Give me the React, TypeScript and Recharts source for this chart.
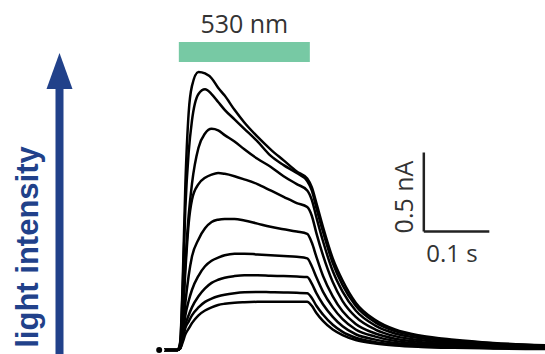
import { LineChart, Line, XAxis, YAxis, ReferenceArea, ReferenceLine, Customized } from 'recharts'

// time in s (light on at 0, off at 0.2), current in nA
const times = [-0.03, -0.002, 0.002, 0.006, 0.01, 0.015, 0.02, 0.03, 0.04, 0.05, 0.06, 0.07, 0.085, 0.1, 0.12, 0.14, 0.16, 0.18, 0.196, 0.203, 0.21, 0.22, 0.235, 0.25, 0.27, 0.3, 0.33, 0.37, 0.42, 0.48, 0.559]

const traceA = [0, 0, 0.05, 0.45, 1.05, 1.5, 1.67, 1.76, 1.75, 1.72, 1.66, 1.61, 1.52, 1.44, 1.35, 1.27, 1.2, 1.13, 1.085, 1.03, 0.93, 0.78, 0.58, 0.44, 0.3, 0.19, 0.13, 0.09, 0.065, 0.045, 0.03]
const traceB = [0, 0, 0.04, 0.4, 0.9, 1.25, 1.45, 1.62, 1.65, 1.62, 1.57, 1.52, 1.46, 1.4, 1.32, 1.23, 1.17, 1.12, 1.07, 1.01, 0.9, 0.75, 0.55, 0.41, 0.28, 0.175, 0.12, 0.085, 0.06, 0.042, 0.028]
const traceC = [0, 0, 0.03, 0.25, 0.55, 0.85, 1.05, 1.28, 1.37, 1.4, 1.39, 1.36, 1.32, 1.27, 1.21, 1.16, 1.1, 1.05, 1.01, 0.95, 0.84, 0.69, 0.5, 0.37, 0.25, 0.155, 0.105, 0.075, 0.053, 0.038, 0.025]
const traceD = [0, 0, 0.02, 0.2, 0.5, 0.8, 0.95, 1.05, 1.09, 1.11, 1.12, 1.115, 1.1, 1.08, 1.05, 1.01, 0.97, 0.93, 0.905, 0.85, 0.74, 0.6, 0.43, 0.31, 0.21, 0.13, 0.088, 0.062, 0.045, 0.032, 0.022]
const traceE = [0, 0, 0.015, 0.12, 0.3, 0.47, 0.59, 0.7, 0.77, 0.81, 0.825, 0.83, 0.83, 0.82, 0.8, 0.78, 0.765, 0.75, 0.735, 0.68, 0.59, 0.47, 0.34, 0.245, 0.165, 0.105, 0.072, 0.05, 0.036, 0.026, 0.018]
const traceF = [0, 0, 0.01, 0.1, 0.22, 0.31, 0.38, 0.47, 0.53, 0.565, 0.585, 0.6, 0.61, 0.61, 0.605, 0.6, 0.595, 0.59, 0.58, 0.53, 0.46, 0.37, 0.27, 0.195, 0.13, 0.085, 0.058, 0.04, 0.028, 0.02, 0.014]
const traceG = [0, 0, 0.01, 0.08, 0.16, 0.22, 0.27, 0.34, 0.39, 0.425, 0.445, 0.458, 0.468, 0.473, 0.473, 0.47, 0.468, 0.465, 0.462, 0.42, 0.36, 0.29, 0.21, 0.15, 0.1, 0.066, 0.045, 0.031, 0.022, 0.016, 0.011]
const traceH = [0, 0, 0.01, 0.07, 0.14, 0.18, 0.22, 0.27, 0.305, 0.325, 0.34, 0.35, 0.36, 0.366, 0.368, 0.366, 0.364, 0.362, 0.36, 0.33, 0.28, 0.225, 0.16, 0.115, 0.078, 0.05, 0.035, 0.024, 0.017, 0.012, 0.008]
const traceI = [0, 0, 0.01, 0.05, 0.1, 0.135, 0.17, 0.22, 0.25, 0.27, 0.285, 0.293, 0.3, 0.303, 0.305, 0.305, 0.305, 0.305, 0.305, 0.28, 0.235, 0.185, 0.13, 0.095, 0.064, 0.042, 0.029, 0.02, 0.014, 0.01, 0.006]

const traces = [traceA, traceB, traceC, traceD, traceE, traceF, traceG, traceH, traceI]

// light pulse and scale bar (0.1 s, 0.5 nA)
const pulse = { start: 0, end: 0.2, label: '530 nm' }
const scaleBar = { t: 0.374, v: 0.75, dt: 0.1, dv: 0.5 }

const chartData = times.map((t, i) => {
  const row: Record<string, number> = { t }
  traces.forEach((s, k) => {
    row['s' + k] = s[i]
  })
  return row
})

const NAVY = '#21418a'

function Annotations() {
  return (
    <g>
      <rect x={55.5} y={86} width={8} height={270} fill={NAVY} />
      <polygon points="59.5,53 46.5,89 72.5,89" fill={NAVY} />
      <text
        x={38}
        y={247}
        transform="rotate(-90 38 247)"
        textAnchor="middle"
        fontFamily="'Liberation Sans', Arial, sans-serif"
        fontWeight="bold"
        fontSize={31}
        fill={NAVY}
      >
        light intensity
      </text>
      <text
        x={413}
        y={197}
        transform="rotate(-90 413 197)"
        textAnchor="middle"
        fontFamily="'Open Sans', sans-serif"
        fontSize={25}
        fill="#333"
      >
        0.5 nA
      </text>
      <text x={452} y={262} textAnchor="middle" fontFamily="'Open Sans', sans-serif" fontSize={24} fill="#333">
        0.1 s
      </text>
    </g>
  )
}

export default function App() {
  return (
    <div style={{ position: 'absolute', left: 0, top: 0, background: '#fff' }}>
      <LineChart width={545} height={354} data={chartData} margin={{ top: 0, right: 0, bottom: 0, left: 0 }}>
        <XAxis type="number" dataKey="t" domain={[-0.273, 0.559]} hide allowDataOverflow />
        <YAxis type="number" domain={[-0.025, 2.215]} hide allowDataOverflow />
        <ReferenceArea
          x1={pulse.start}
          x2={pulse.end}
          y1={1.823}
          y2={1.949}
          fill="#77c9a4"
          fillOpacity={1}
          stroke="none"
          label={{ value: pulse.label, position: 'top', offset: 9, fill: '#333', fontSize: 25, fontFamily: "'Open Sans', sans-serif" }}
        />
        <ReferenceLine
          segment={[{ x: scaleBar.t, y: scaleBar.v + scaleBar.dv }, { x: scaleBar.t, y: scaleBar.v }]}
          stroke="#222"
          strokeWidth={2.5}
        />
        <ReferenceLine
          segment={[{ x: scaleBar.t, y: scaleBar.v }, { x: scaleBar.t + scaleBar.dt, y: scaleBar.v }]}
          stroke="#222"
          strokeWidth={2.5}
        />
        {traces.map((_, k) => (
          <Line
            key={k}
            dataKey={'s' + k}
            type="monotone"
            stroke="#000"
            strokeWidth={2.5}
            dot={false}
            isAnimationActive={false}
          />
        ))}
        <Customized component={Annotations} />
      </LineChart>
    </div>
  )
}
